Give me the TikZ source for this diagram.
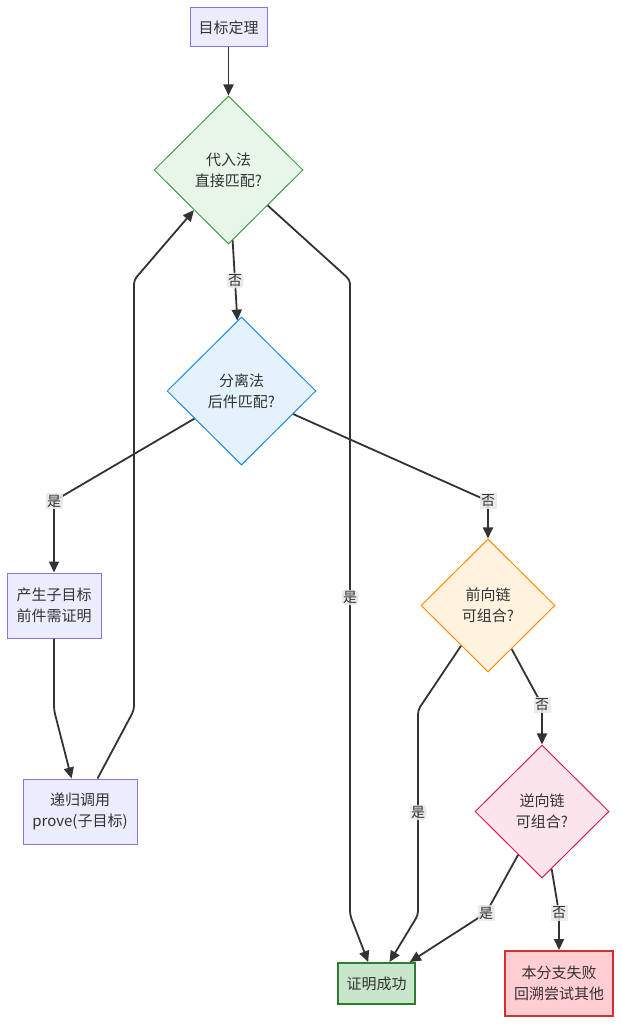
\documentclass[tikz,border=0pt]{standalone}
\usepackage{fontspec}
\setmainfont{Noto Sans CJK SC}
\usetikzlibrary{shapes.geometric,arrows.meta}
\definecolor{txt}{HTML}{333333}
\definecolor{defFill}{HTML}{ECECFF}
\definecolor{defDraw}{HTML}{9370DB}
\definecolor{gFill}{HTML}{E8F5E9}
\definecolor{gDraw}{HTML}{43A047}
\definecolor{bFill}{HTML}{E3F2FD}
\definecolor{bDraw}{HTML}{1E88E5}
\definecolor{oFill}{HTML}{FFF3E0}
\definecolor{oDraw}{HTML}{FB8C00}
\definecolor{pFill}{HTML}{FCE4EC}
\definecolor{pDraw}{HTML}{D81B60}
\definecolor{okFill}{HTML}{C8E6C9}
\definecolor{okDraw}{HTML}{2E7D32}
\definecolor{failFill}{HTML}{FFCDD2}
\definecolor{failDraw}{HTML}{D32F2F}
\definecolor{lblFill}{HTML}{E8E8E8}
\tikzset{
  every node/.style={font=\fontsize{15pt}{21pt}\selectfont, text=txt, align=center},
  box/.style={rectangle, draw=defDraw, fill=defFill, line width=1pt, inner sep=0pt},
  dia/.style={diamond, line width=1pt, inner sep=0pt, minimum width=149pt, minimum height=148pt},
  arr/.style={draw=txt, line width=1.8pt, -{Triangle[length=11pt,width=10pt]}, rounded corners=4pt},
  lbl/.style={fill=lblFill, fill opacity=0.85, text opacity=1, inner sep=1.5pt, font=\fontsize{14pt}{16pt}\selectfont}
}
\begin{document}
\begin{tikzpicture}[x=1pt,y=-1pt]
\useasboundingbox[fill=white] (0,0) rectangle (621,1024);
% nodes
\node[box, minimum width=77pt, minimum height=39pt] (goal) at (228.5,27.5) {目标定理};
\node[dia, draw=gDraw, fill=gFill] (d1) at (228.5,170) {代入法\\直接匹配?};
\node[dia, draw=bDraw, fill=bFill] (d2) at (241.5,391) {分离法\\后件匹配?};
\node[box, minimum width=94pt, minimum height=65pt] (gen) at (54,605.5) {产生子目标\\前件需证明};
\node[box, minimum width=114pt, minimum height=65pt] (rec) at (80,811.5) {递归调用\\prove(子目标)};
\node[dia, draw=oDraw, fill=oFill, minimum width=134pt, minimum height=133pt] (d3) at (488,605.5) {前向链\\可组合?};
\node[dia, draw=pDraw, fill=pFill, minimum width=134pt, minimum height=133pt] (d4) at (542,811.5) {逆向链\\可组合?};
\node[rectangle, draw=okDraw, fill=okFill, line width=2pt, minimum width=77pt, minimum height=41pt] (ok) at (376.5,983.5) {证明成功};
\node[rectangle, draw=failDraw, fill=failFill, line width=2pt, minimum width=108pt, minimum height=65pt] (fail) at (559,983.5) {本分支失败\\回溯尝试其他};
% bend coordinates
\coordinate (a1) at (350,280);
\coordinate (a2) at (350,915);
\coordinate (b1) at (54,501);
\coordinate (c1) at (488,501);
\coordinate (e1) at (54,710);
\coordinate (f1) at (134,710);
\coordinate (f2) at (134,280);
\coordinate (g1) at (418,710);
\coordinate (g2) at (418,915);
\coordinate (h1) at (542,705);
\coordinate (i1) at (486,913);
\coordinate (j1) at (559,913);
% edges
\draw[arr] (goal) -- (d1);
\draw[arr] (d1) -- node[lbl]{否} (d2);
\draw[arr] (d1) -- (a1) -- node[lbl]{是} (a2) -- (ok);
\draw[arr] (d2) -- (b1) -- (gen);
\node[lbl] (lb1) at (b1) {是};
\draw[arr] (d2) -- (c1) -- (d3);
\node[lbl] (lc1) at (c1) {否};
\draw[arr] (gen) -- (e1) -- (rec);
\draw[arr] (rec) -- (f1) -- (f2) -- (d1);
\draw[arr] (d3) -- (g1) -- node[lbl]{是} (g2) -- (ok);
\draw[arr] (d3) -- (h1) -- (d4);
\node[lbl] (lh1) at (h1) {否};
\draw[arr] (d4) -- (i1) -- (ok);
\node[lbl] (li1) at (i1) {是};
\draw[arr] (d4) -- (j1) -- (fail);
\node[lbl] (lj1) at (j1) {否};
\end{tikzpicture}
\end{document}
